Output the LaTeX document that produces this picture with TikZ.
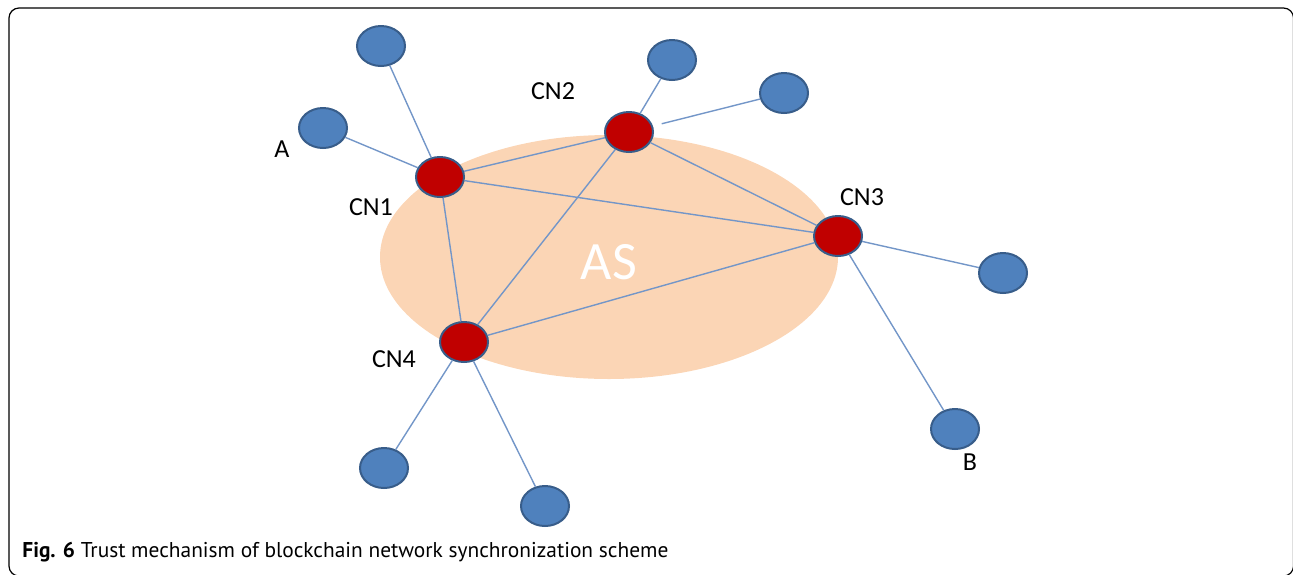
\documentclass[tikz,border=0pt]{standalone}
\usepackage{fontspec}
\setmainfont{Carlito}
\newfontfamily\capfont{PT Sans}
\usepackage{tikz}
\usetikzlibrary{calc,positioning,shapes}
\definecolor{peerblue}{RGB}{79,129,189}
\definecolor{rimblue}{RGB}{56,93,138}
\definecolor{cnred}{RGB}{192,0,0}
\definecolor{asfill}{RGB}{251,213,181}
\definecolor{linkblue}{RGB}{115,150,200}

\begin{document}
\begin{tikzpicture}[x=0.5pt,y=-0.5pt,
    peer/.style={ellipse,draw=rimblue,line width=1pt,fill=peerblue,
      minimum width=24pt,minimum height=20pt,inner sep=0pt},
    cn/.style={peer,fill=cnred},
    link/.style={draw=linkblue,line width=0.7pt},
    lbl/.style={font=\fontsize{13}{15}\selectfont,inner sep=0pt}]
    \useasboundingbox (0,0) rectangle (1293,574);
    \draw[line width=0.6pt,rounded corners=5pt] (9,8) rectangle (1293.5,576);

    % area of the AS
    \node (AS) [ellipse,fill=asfill,minimum width=229pt,minimum height=122pt] at (609,257) {};
    \node (ASlbl) [text=white,font=\fontsize{27}{30}\selectfont] at (609,262) {AS};

    % core nodes
    \node (CN1) [cn] at (440,177) {};
    \node (CN2) [cn] at (629,132) {};
    \node (CN3) [cn] at (838,236) {};
    \node (CN4) [cn] at (464,342) {};

    % outer nodes
    \node (P1) [peer] at (381,46) {};
    \node (A)  [peer] at (323,128) {};
    \node (P2) [peer] at (672,60) {};
    \node (P3) [peer] at (784,93) {};
    \node (P4) [peer] at (1003,273) {};
    \node (B)  [peer] at (955,429) {};
    \node (P5) [peer] at (384,468) {};
    \node (P6) [peer] at (545,506) {};

    \draw[link] (CN1) -- (CN2);
    \draw[link] (CN1) -- (CN3);
    \draw[link] (CN1) -- (CN4);
    \draw[link] (CN2) -- (CN3);
    \draw[link] (CN2) -- (CN4);
    \draw[link] (CN3) -- (CN4);

    \draw[link] (CN1) -- (P1);
    \draw[link] (CN1) -- (A);
    \draw[link] (CN2) -- (P2);
    \draw[link,shorten <=4.5pt] (CN2) -- (P3);
    \draw[link] (CN3) -- (P4);
    \draw[link] (CN3) -- (B);
    \draw[link] (CN4) -- (P5);
    \draw[link] (CN4) -- (P6);

    \node (Albl)   [lbl] at (282,149) {A};
    \node (Blbl)   [lbl] at (970,462) {B};
    \node (CN1lbl) [lbl] at (371,207) {CN1};
    \node (CN2lbl) [lbl] at (553,91) {CN2};
    \node (CN3lbl) [lbl] at (862,197) {CN3};
    \node (CN4lbl) [lbl] at (394,359) {CN4};

    \node (cap) [anchor=base west,inner sep=0pt,font=\capfont\fontsize{10.7}{12}\selectfont]
      at (22,557) {\textbf{Fig. 6} Trust mechanism of blockchain network synchronization scheme};
\end{tikzpicture}
\end{document}
